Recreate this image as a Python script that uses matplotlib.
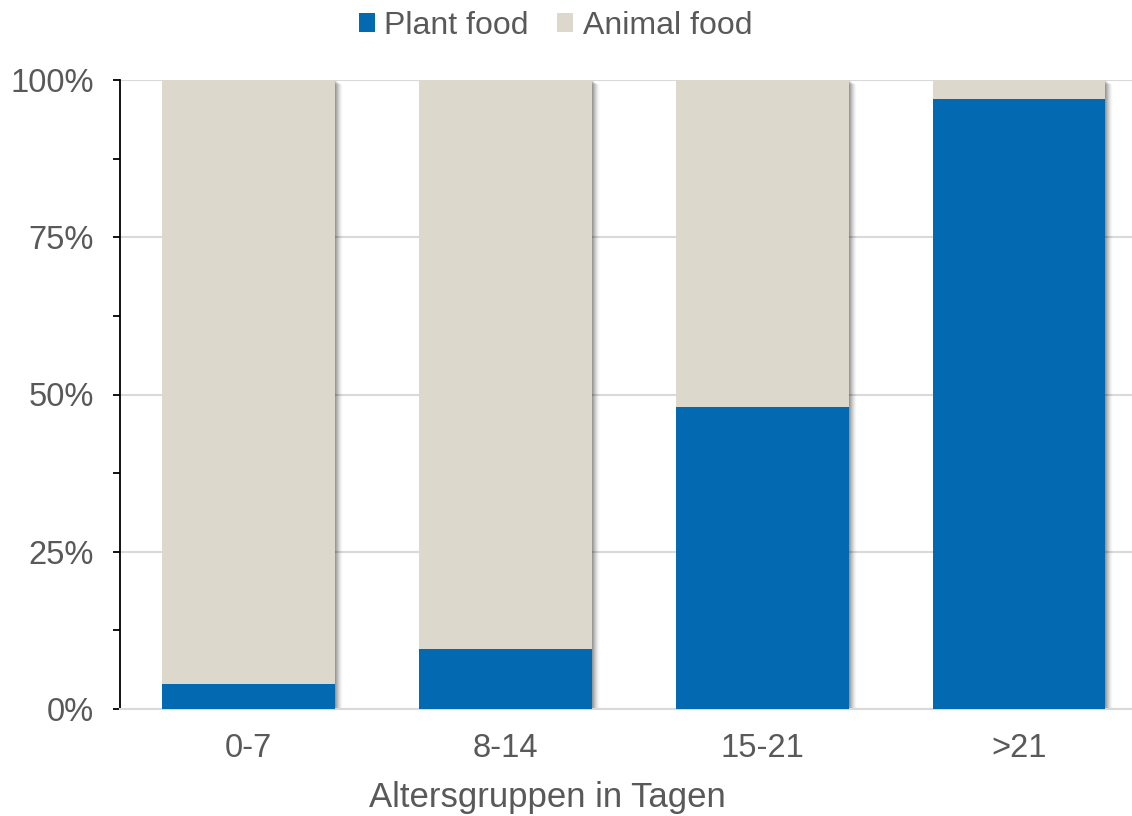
import numpy as np
import matplotlib.pyplot as plt
from matplotlib.ticker import MultipleLocator, PercentFormatter

plt.rcParams['font.family'] = ['Liberation Sans', 'DejaVu Sans']

groups = ['0-7', '8-14', '15-21', '>21']
plant = [4, 9.5, 48, 97]
animal = [100 - p for p in plant]

blue = '#0369b1'
beige = '#dcd8cc'
txt = '#595959'

fig = plt.figure(figsize=(11.32, 8.16), dpi=100)
ax = fig.add_axes([120 / 1132, 107 / 816, 1012 / 1132, 629 / 816])

x = np.arange(len(groups))
w = 0.673

# soft shadow on the right side of the bars
px = 1 / 257
for i in range(1, 9):
    ax.bar(x + i * px, 100, w, bottom=-i * 0.1, color='black',
           alpha=0.12 * (1 - i / 9), zorder=1, linewidth=0)

ax.bar(x, plant, w, color=blue, label='Plant food', zorder=3)
ax.bar(x, animal, w, bottom=plant, color=beige, label='Animal food', zorder=3)

ax.set_xlim(-0.5, 3.44)
ax.set_ylim(0, 100)
ax.yaxis.set_major_locator(MultipleLocator(25))
ax.yaxis.set_minor_locator(MultipleLocator(12.5))
ax.yaxis.set_major_formatter(PercentFormatter(decimals=0))
ax.yaxis.grid(True, color='#d9d9d9', linewidth=1.5, zorder=0)
ax.set_axisbelow(True)

ax.set_xticks(x)
ax.set_xticklabels(groups)
ax.tick_params(axis='x', length=0, pad=17, labelsize=23.5, labelcolor=txt)
ax.tick_params(axis='y', which='both', length=5, width=1.3, color='black',
               pad=14, labelsize=23.5, labelcolor=txt)

for s in ['top', 'right']:
    ax.spines[s].set_visible(False)
ax.spines['left'].set_color('black')
ax.spines['left'].set_linewidth(1.3)
ax.spines['bottom'].set_color('#d9d9d9')
ax.spines['bottom'].set_linewidth(1.5)

# axis title sits left of the axes centre, like in the original
fig.text(0.4836, 1 - 798 / 816, 'Altersgruppen in Tagen', fontsize=25, color=txt,
         ha='center', va='center')

fig.legend(loc='upper center', bbox_to_anchor=(0.4907, 1.022), ncol=2, frameon=False,
           fontsize=23, labelcolor=txt, handlelength=0.5, handleheight=0.5,
           handletextpad=0.3, columnspacing=0.9)

fig.savefig('out.png', dpi=100)
